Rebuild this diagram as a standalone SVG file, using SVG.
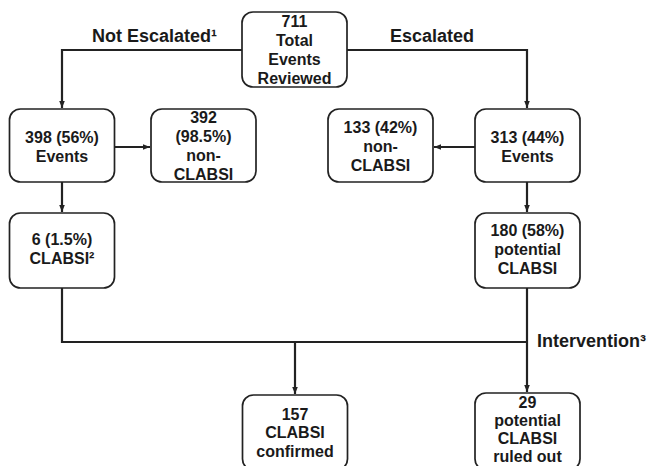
<svg xmlns="http://www.w3.org/2000/svg" width="647" height="466" viewBox="0 0 647 466">
<style>
.box{fill:#fff;stroke:#222;stroke-width:1.7}
.t{font-family:"Liberation Sans",Arial,sans-serif;font-weight:bold;font-size:16px;fill:#1a1a1a;text-anchor:middle}
.lbl{font-family:"Liberation Sans",Arial,sans-serif;font-weight:bold;font-size:18px;fill:#1a1a1a}
.ln{fill:none;stroke:#222;stroke-width:2.2}
</style>
<defs>
<marker id="ah" viewBox="0 0 10 10" refX="10" refY="5" markerWidth="7" markerHeight="7" orient="auto" markerUnits="userSpaceOnUse">
<path d="M0,1 L10,5 L0,9 Z" fill="#222"/>
</marker>
</defs>
<rect width="647" height="466" fill="#fff"/>
<g id="connectors">
<path class="ln" d="M242,50 H62 V108" marker-end="url(#ah)"/>
<path class="ln" d="M347,50 H527 V108" marker-end="url(#ah)"/>
<path class="ln" d="M114,147 H150" marker-end="url(#ah)"/>
<path class="ln" d="M475,147 H434" marker-end="url(#ah)"/>
<path class="ln" d="M62,182 V212" marker-end="url(#ah)"/>
<path class="ln" d="M527,182 V212" marker-end="url(#ah)"/>
<path class="ln" d="M62,288 V342 H527"/>
<path class="ln" d="M527,288 V392" marker-end="url(#ah)"/>
<path class="ln" d="M295,342 V394" marker-end="url(#ah)"/>
</g>
<g id="labels">
<text class="lbl" x="92" y="42">Not Escalated¹</text>
<text class="lbl" x="390" y="42">Escalated</text>
<text class="lbl" x="537" y="347">Intervention³</text>
</g>
<g id="n711">
<rect class="box" x="242" y="12" width="105" height="75" rx="11"/>
<text class="t" x="294.5" y="27">711</text>
<text class="t" x="294.5" y="46">Total</text>
<text class="t" x="294.5" y="65">Events</text>
<text class="t" x="294.5" y="84">Reviewed</text>
</g>
<g id="n398">
<rect class="box" x="9.5" y="109" width="105" height="73" rx="11"/>
<text class="t" x="62" y="143">398 (56%)</text>
<text class="t" x="62" y="162">Events</text>
</g>
<g id="n392">
<rect class="box" x="151" y="109" width="105" height="73" rx="11"/>
<text class="t" x="203.5" y="123">392</text>
<text class="t" x="203.5" y="142">(98.5%)</text>
<text class="t" x="203.5" y="161">non-</text>
<text class="t" x="203.5" y="180">CLABSI</text>
</g>
<g id="n133">
<rect class="box" x="328" y="109" width="105" height="73" rx="11"/>
<text class="t" x="380.5" y="133">133 (42%)</text>
<text class="t" x="380.5" y="152">non-</text>
<text class="t" x="380.5" y="171">CLABSI</text>
</g>
<g id="n313">
<rect class="box" x="475" y="109" width="105" height="73" rx="11"/>
<text class="t" x="527.5" y="143">313 (44%)</text>
<text class="t" x="527.5" y="162">Events</text>
</g>
<g id="n6">
<rect class="box" x="9.5" y="213" width="105" height="75" rx="11"/>
<text class="t" x="62" y="245">6 (1.5%)</text>
<text class="t" x="62" y="264">CLABSI²</text>
</g>
<g id="n180">
<rect class="box" x="475" y="213" width="105" height="75" rx="11"/>
<text class="t" x="527.5" y="236">180 (58%)</text>
<text class="t" x="527.5" y="255">potential</text>
<text class="t" x="527.5" y="274">CLABSI</text>
</g>
<g id="n157">
<rect class="box" x="242.5" y="395" width="105" height="75" rx="11"/>
<text class="t" x="295" y="420">157</text>
<text class="t" x="295" y="438">CLABSI</text>
<text class="t" x="295" y="457">confirmed</text>
</g>
<g id="n29">
<rect class="box" x="475" y="393" width="105" height="77" rx="11"/>
<text class="t" x="527.5" y="408">29</text>
<text class="t" x="527.5" y="426">potential</text>
<text class="t" x="527.5" y="444">CLABSI</text>
<text class="t" x="527.5" y="462">ruled out</text>
</g>
</svg>
